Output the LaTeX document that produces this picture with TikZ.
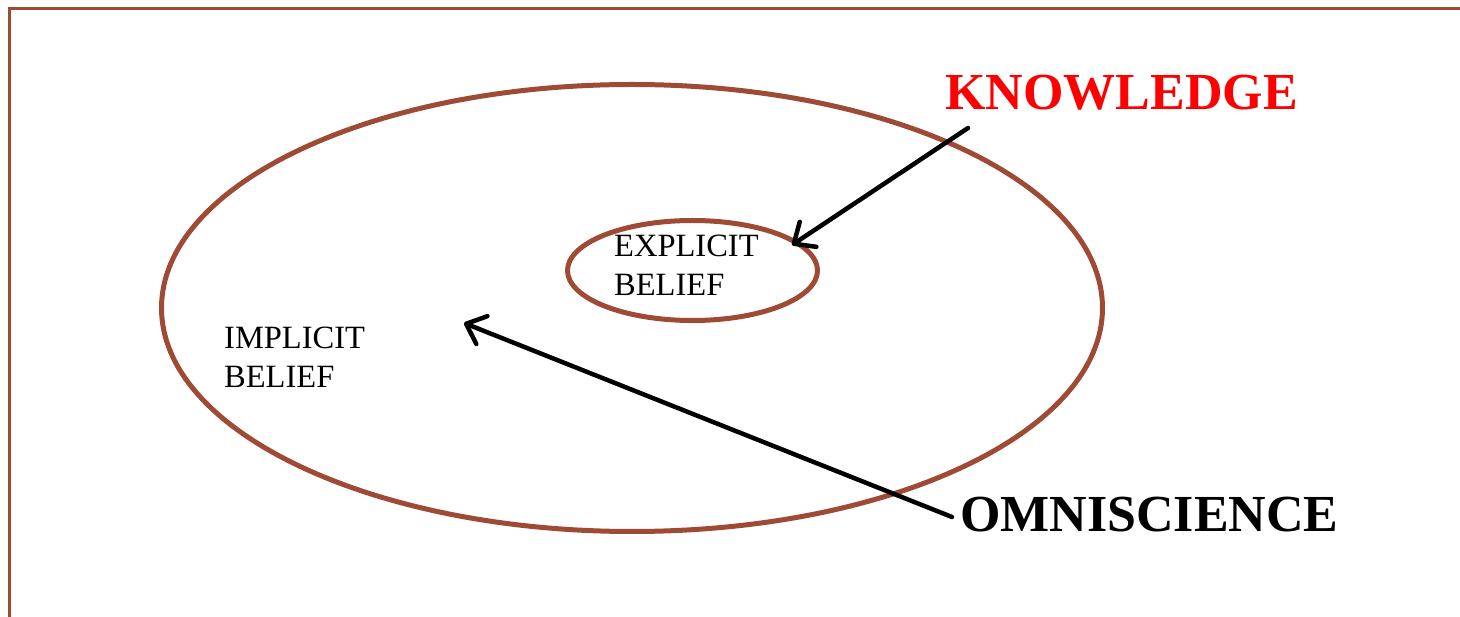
\documentclass[tikz,border=0pt]{standalone}
\usepackage{fontspec}
\setmainfont{Liberation Serif}
\usetikzlibrary{shapes.geometric,arrows.meta}
\definecolor{rim}{HTML}{9E4A34}
\tikzset{
  ring/.style={draw=rim, line width=5pt, ellipse, inner sep=0pt},
  lbl/.style={anchor=base west, align=left, inner sep=0pt, font=\fontsize{32.5}{39}\selectfont},
  big/.style={anchor=base west, inner sep=0pt, font=\fontsize{52}{60}\selectfont\bfseries},
  pointer/.style={draw=black, line width=4.5pt, line cap=round, -{Straight Barb[length=17pt,width=30pt,line width=4.5pt,round]}}
}
\begin{document}
\begin{tikzpicture}[x=1pt,y=-1pt]
\useasboundingbox (0,0) rectangle (1460,617);
\draw[rim, line width=3pt] (9.5,617) -- (9.5,8.5) -- (1460,8.5);
\node[ring, minimum width=941pt, minimum height=447pt] (outer) at (632,308) {};
\node[ring, minimum width=250pt, minimum height=100pt] (inner) at (692.5,270.5) {};
\node[lbl] (expl) at (614,296) {EXPLICIT\\BELIEF};
\node[lbl] (impl) at (224,388) {IMPLICIT\\BELIEF};
\node[big, text={rgb,255:red,255;green,0;blue,0}] (know) at (945,110) {KNOWLEDGE};
\node[big] (omni) at (960,531) {OMNISCIENCE};
\coordinate (k1) at (968,128);
\coordinate (k2) at (792,245);
\coordinate (o1) at (952,517);
\coordinate (o2) at (464,323);
\draw[pointer] (k1) -- (k2);
\draw[pointer] (o1) -- (o2);
\end{tikzpicture}
\end{document}
